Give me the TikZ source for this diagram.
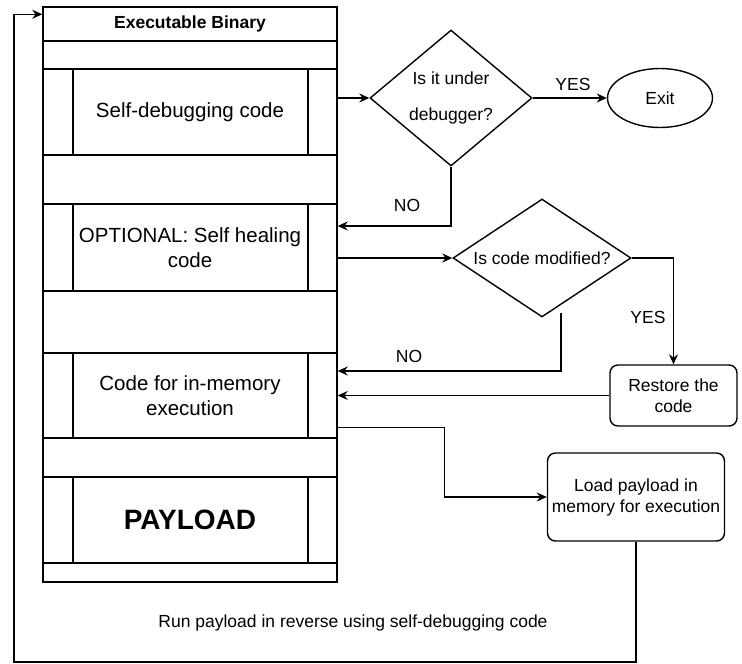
\documentclass[tikz,border=0pt]{standalone}
\usepackage{fontspec}
\setmainfont{Liberation Sans}
\usetikzlibrary{arrows.meta,shapes.geometric}
\tikzset{>/.tip={Stealth[length=10pt,width=9pt]}}

\begin{document}
\begin{tikzpicture}[x=1pt,y=-1pt,line width=1.4pt,
  every node/.style={font=\fontsize{17.5}{21}\selectfont},
  proc/.style={draw, minimum width=294pt, align=center,
    font=\fontsize{20.5}{24.6}\selectfont,
    path picture={
      \draw ([xshift=30pt]path picture bounding box.north west) -- ([xshift=30pt]path picture bounding box.south west);
      \draw ([xshift=-29pt]path picture bounding box.north east) -- ([xshift=-29pt]path picture bounding box.south east);}},
  decision/.style={draw, diamond, inner sep=0pt, align=center, font=\fontsize{17.5}{36}\selectfont},
  roundbox/.style={draw, rounded corners=8pt, align=center, inner sep=2pt}]
\useasboundingbox (0,0) rectangle (742,664);

% the binary
\node[draw, minimum width=294pt, minimum height=575pt] (binary) at (190,294.5) {};
\node[draw, minimum width=294pt, minimum height=34pt, font=\bfseries\fontsize{17.5}{21}\selectfont] (hdr) at (190,24) {Executable Binary};
\node[proc, minimum height=86pt] (selfdbg) at (190,112) {Self-debugging code};
\node[proc, minimum height=87pt] (heal) at (190,247.5) {OPTIONAL: Self healing\\code};
\node[proc, minimum height=85pt] (mem) at (190,395.5) {Code for in-memory\\execution};
\node[proc, minimum height=86pt, font=\bfseries\fontsize{28}{33}\selectfont] (payload) at (190,520) {PAYLOAD};

% checks and actions
\node[decision, minimum width=162pt, minimum height=136pt, aspect=1.2] (dbgq) at (451,98) {Is it under\\debugger?};
\node[decision, minimum width=178pt, minimum height=118pt, aspect=1.5] (modq) at (542,258) {Is code modified?};
\node[draw, ellipse, minimum width=105pt, minimum height=59pt] (exit) at (660,98) {Exit};
\node[roundbox, minimum width=127pt, minimum height=61pt] (rest) at (673.5,395.5) {Restore the\\code};
\node[roundbox, minimum width=177pt, minimum height=88pt] (load) at (636,497) {Load payload in\\memory for execution};
\node (runlbl) at (353,623) {Run payload in reverse using self-debugging code};

\node (yes1) at (573,84) {YES};
\node (no1) at (407,205) {NO};
\node (yes2) at (648,317) {YES};
\node (no2) at (409,356) {NO};

\coordinate (nostart) at (561,313);
\coordinate (loopc) at (14,662);

\draw[->] (selfdbg.east |- dbgq.west) -- (dbgq.west);
\draw[->] (dbgq.east) -- (exit.west);
\draw[->] (dbgq.south) |- ([yshift=21.5pt]heal.east);
\draw[->] ([yshift=-10.5pt]heal.east) -- (modq.west);
\draw[->] (modq.east) -| (rest.north);
\draw[->] (nostart) |- ([yshift=24.5pt]mem.east);
\draw[->] (rest.west) -- (rest.west -| mem.east);
\draw[->] ([yshift=-32pt]mem.east) -- ++(107,0) |- (load.west);
\draw[->] (load.south) |- (loopc) |- ([yshift=-8pt]hdr.north west);
\end{tikzpicture}
\end{document}
